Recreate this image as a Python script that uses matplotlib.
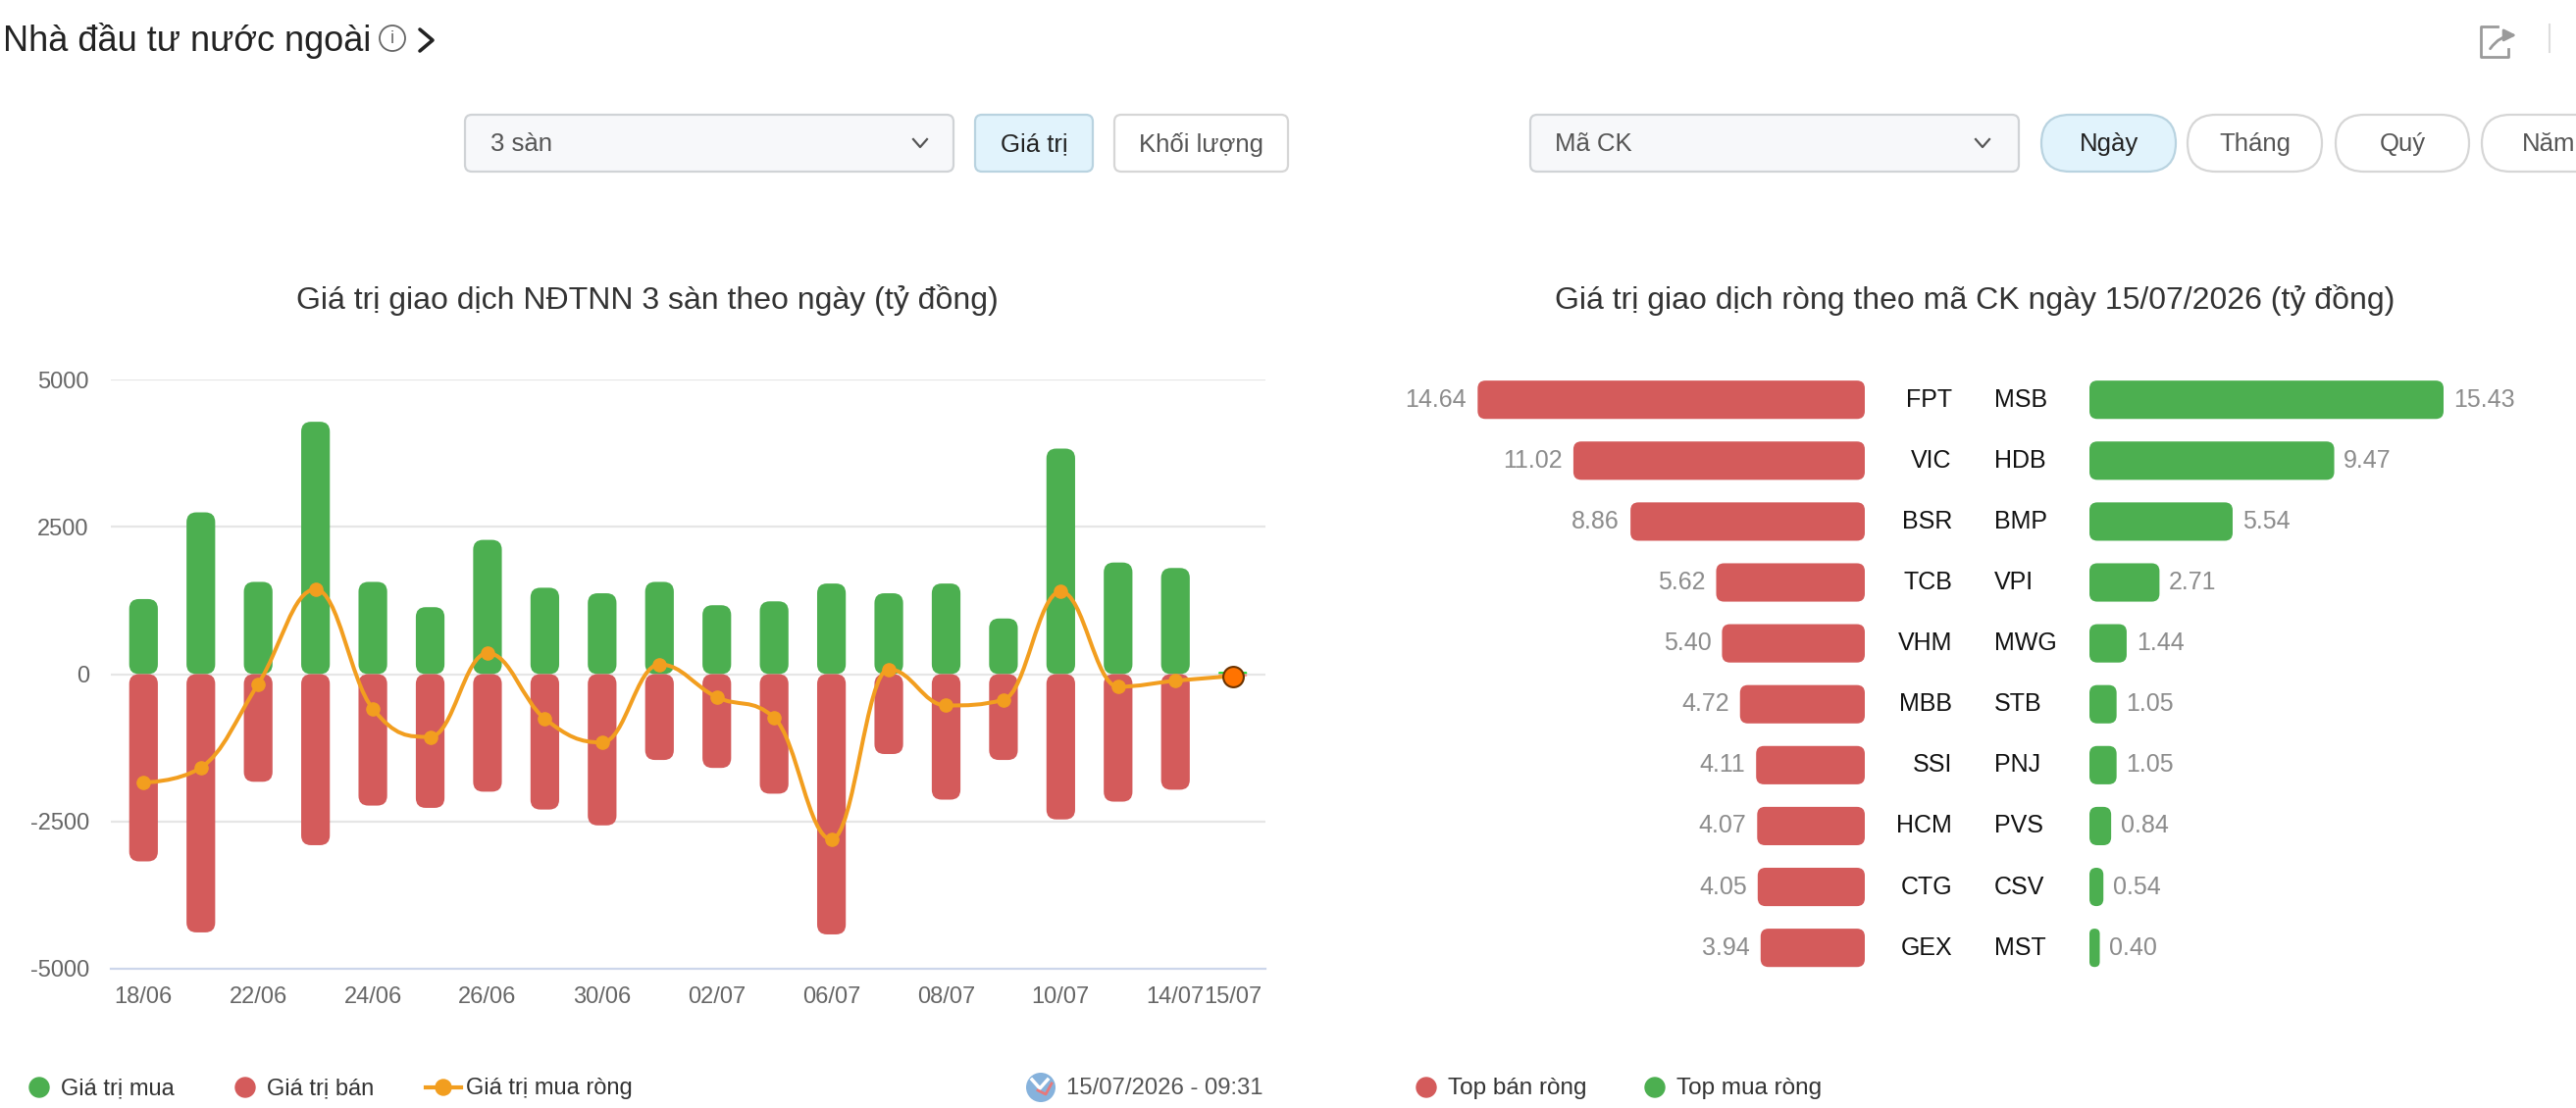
import matplotlib
matplotlib.use("Agg")
import matplotlib.pyplot as plt
from matplotlib.patches import FancyBboxPatch, Circle, PathPatch
from matplotlib.path import Path

plt.rcParams['font.family'] = ['Liberation Sans', 'DejaVu Sans']

# ---- data (tỷ đồng) ----
dates = ["18/06", "19/06", "22/06", "23/06", "24/06", "25/06", "26/06", "29/06", "30/06", "01/07",
         "02/07", "03/07", "06/07", "07/07", "08/07", "09/07", "10/07", "13/07", "14/07", "15/07"]
shown_dates = ["18/06", "22/06", "24/06", "26/06", "30/06", "02/07", "06/07", "08/07", "10/07", "14/07", "15/07"]
buy_value = [1274, 2745, 1565, 4282, 1565, 1136, 2278, 1466, 1372, 1565,
             1169, 1235, 1537, 1372, 1537, 944, 3827, 1894, 1801, 40]
sell_value = [-3178, -4383, -1827, -2903, -2231, -2270, -1995, -2298, -2567, -1457,
              -1592, -2029, -4417, -1356, -2130, -1457, -2466, -2164, -1962, -40]
net_value = [-1838, -1586, -168, 1438, -589, -1065, 357, -757, -1160, 165,
             -392, -740, -2802, 82, -532, -437, 1400, -213, -112, -34]
y_ticks = [-5000, -2500, 0, 2500, 5000]

sell_codes = ["FPT", "VIC", "BSR", "TCB", "VHM", "MBB", "SSI", "HCM", "CTG", "GEX"]
sell_net = [14.64, 11.02, 8.86, 5.62, 5.40, 4.72, 4.11, 4.07, 4.05, 3.94]
buy_codes = ["MSB", "HDB", "BMP", "VPI", "MWG", "STB", "PNJ", "PVS", "CSV", "MST"]
buy_net = [15.43, 9.47, 5.54, 2.71, 1.44, 1.05, 1.05, 0.84, 0.54, 0.40]

GREEN = "#4caf50"
RED = "#d45b5b"
ORANGE = "#f29e1f"
W, H = 2626, 1130


def px(x0, y0, x1, y1):
    # pixel box (top-left origin) -> figure fraction rect
    return [x0 / W, 1 - y1 / H, (x1 - x0) / W, (y1 - y0) / H]


def round_bars(ax, bars, radius_px, colors):
    # swap plain rectangles for rounded ones, radius given in pixels
    bb = ax.get_window_extent()
    x0, x1 = ax.get_xlim()
    y0, y1 = ax.get_ylim()
    sx = bb.width / abs(x1 - x0)
    sy = bb.height / abs(y1 - y0)
    aspect = sx / sy
    for rect, c in zip(bars, colors):
        x, y = rect.get_x(), rect.get_y()
        w, h = rect.get_width(), rect.get_height()
        if w < 0:
            x, w = x + w, -w
        if h < 0:
            y, h = y + h, -h
        r = min(radius_px / sx, w / 2, h / aspect / 2)
        rect.set_visible(False)
        ax.add_patch(FancyBboxPatch((x, y), w, h, boxstyle=f"round,pad=0,rounding_size={r}",
                                    mutation_aspect=aspect, fc=c, ec="none", zorder=2))


def spline_path(xs, ys, smoothing=1.5):
    denom = smoothing + 1
    n = len(xs)
    right = [None] * n
    left = [None] * n
    for i in range(1, n - 1):
        lx, ly, x, y, nx, ny = xs[i - 1], ys[i - 1], xs[i], ys[i], xs[i + 1], ys[i + 1]
        lcx = (smoothing * x + lx) / denom
        lcy = (smoothing * y + ly) / denom
        rcx = (smoothing * x + nx) / denom
        rcy = (smoothing * y + ny) / denom
        corr = (rcy - lcy) * (rcx - x) / (rcx - lcx) + y - rcy
        lcy += corr
        rcy += corr
        if lcy > ly and lcy > y:
            lcy = max(ly, y); rcy = 2 * y - lcy
        elif lcy < ly and lcy < y:
            lcy = min(ly, y); rcy = 2 * y - lcy
        if rcy > ny and rcy > y:
            rcy = max(ny, y); lcy = 2 * y - rcy
        elif rcy < ny and rcy < y:
            rcy = min(ny, y); lcy = 2 * y - rcy
        left[i] = (lcx, lcy)
        right[i] = (rcx, rcy)
    verts = [(xs[0], ys[0])]
    codes = [Path.MOVETO]
    for i in range(1, n):
        c1 = right[i - 1] or (xs[i - 1], ys[i - 1])
        c2 = left[i] or (xs[i], ys[i])
        verts += [c1, c2, (xs[i], ys[i])]
        codes += [Path.CURVE4] * 3
    return Path(verts, codes)


fig = plt.figure(figsize=(W / 100, H / 100), dpi=100)

# ---- page chrome drawn in pixel units ----
ui = fig.add_axes([0, 0, 1, 1])
ui.set_xlim(0, W)
ui.set_ylim(H, 0)
ui.axis("off")

ui.text(3, 52, "Nhà đầu tư nước ngoài", fontsize=26, color="#222222", va="baseline")
ui.add_patch(Circle((400, 39), 13, fc="none", ec="#666666", lw=1.3))
ui.text(400, 40, "i", fontsize=13, color="#666666", ha="center", va="center")
ui.plot([428, 441, 428], [30, 41, 52], color="#222222", lw=2.6, solid_capstyle="round")


def button(x0, x1, label, fc, ec, tc, r=7, ha="center", tx=None):
    ui.add_patch(FancyBboxPatch((x0, 117), x1 - x0, 58, boxstyle=f"round,pad=0,rounding_size={r}",
                                fc=fc, ec=ec, lw=1.6))
    ui.text(tx if tx else (x0 + x1) / 2, 147, label, fontsize=18.5, color=tc, ha=ha, va="center")


def chevron(x):
    ui.plot([x - 7, x, x + 7], [142, 150, 142], color="#555555", lw=1.6)


button(474, 972, "3 sàn", "#f7f8fa", "#d0d3d6", "#555555", ha="left", tx=500)
chevron(938)
button(994, 1114, "Giá trị", "#e1f3fc", "#b9d3e0", "#222222")
button(1136, 1313, "Khối lượng", "#ffffff", "#d6d6d6", "#555555")
button(1560, 2058, "Mã CK", "#f7f8fa", "#d0d3d6", "#555555", ha="left", tx=1585)
chevron(2021)
button(2081, 2218, "Ngày", "#e1f3fc", "#b9d3e0", "#222222", r=29)
button(2230, 2367, "Tháng", "#ffffff", "#d6d6d6", "#555555", r=29)
button(2381, 2517, "Quý", "#ffffff", "#d6d6d6", "#555555", r=29)
button(2530, 2667, "Năm", "#ffffff", "#d6d6d6", "#555555", r=29)

# share icon + separator
ui.plot([2546, 2529, 2529, 2557, 2557], [27, 27, 58, 58, 50], color="#9a9a9a", lw=2)
ui.annotate("", xy=(2568, 36), xytext=(2537, 52),
            arrowprops=dict(arrowstyle="-|>", color="#9a9a9a", lw=2,
                            connectionstyle="arc3,rad=-0.3", mutation_scale=18))
ui.plot([2599, 2599], [25, 53], color="#dddddd", lw=1.5)

# chart titles
ui.text(660, 306, "Giá trị giao dịch NĐTNN 3 sàn theo ngày (tỷ đồng)", fontsize=23,
        color="#333333", ha="center", va="center")
ui.text(2013, 306, "Giá trị giao dịch ròng theo mã CK ngày 15/07/2026 (tỷ đồng)", fontsize=23,
        color="#333333", ha="center", va="center")

# legends
ui.add_patch(Circle((40, 1109), 10, color=GREEN))
ui.text(62, 1110, "Giá trị mua", fontsize=17, color="#333333", va="center")
ui.add_patch(Circle((250, 1109), 10, color=RED))
ui.text(272, 1110, "Giá trị bán", fontsize=17, color="#333333", va="center")
ui.plot([434, 470], [1109, 1109], color=ORANGE, lw=3)
ui.add_patch(Circle((452, 1109), 8, color=ORANGE))
ui.text(475, 1110, "Giá trị mua ròng", fontsize=17, color="#333333", va="center")

ui.add_patch(Circle((1061, 1109), 15, fc="#86b2dc", ec="none"))
ui.plot([1052, 1060, 1068], [1101, 1110, 1101], color="white", lw=2.5)
ui.plot([1058, 1066, 1072], [1112, 1116, 1105], color="#e8787a", lw=2)
ui.text(1087, 1110, "15/07/2026 - 09:31", fontsize=17.2, color="#555555", va="center")

ui.add_patch(Circle((1454, 1109), 10, color=RED))
ui.text(1476, 1110, "Top bán ròng", fontsize=17.5, color="#333333", va="center")
ui.add_patch(Circle((1687, 1109), 10, color=GREEN))
ui.text(1709, 1110, "Top mua ròng", fontsize=17.5, color="#333333", va="center")

# ---- left chart: daily buy / sell / net ----
ax = fig.add_axes(px(113, 387, 1290, 988))
ax.patch.set_alpha(0)
x = list(range(len(dates)))
ax.set_xlim(-0.57, len(dates) - 0.43)
ax.set_ylim(y_ticks[0], y_ticks[-1])
ax.set_yticks(y_ticks)
ax.set_yticklabels([str(v) for v in y_ticks])
ax.set_xticks([i for i, d in enumerate(dates) if d in shown_dates])
ax.set_xticklabels([d for d in dates if d in shown_dates])
ax.tick_params(length=0, labelsize=17, labelcolor="#666666")
ax.tick_params(axis="y", pad=16)
ax.tick_params(axis="x", pad=13)
for s in ["top", "right", "left"]:
    ax.spines[s].set_visible(False)
ax.spines["bottom"].set_color("#ccd6eb")
ax.spines["bottom"].set_linewidth(1.6)
for v in y_ticks[1:]:
    ax.axhline(v, color="#e6e6e6", lw=1.6, zorder=0)

buy_colors = [GREEN] * (len(dates) - 1) + ["#22dd33"]
sell_colors = [RED] * (len(dates) - 1) + ["#ff8f8f"]
b1 = ax.bar(x, buy_value, width=0.5)
b2 = ax.bar(x, sell_value, width=0.5)
round_bars(ax, b1, 10, buy_colors)
round_bars(ax, b2, 10, sell_colors)

ax.add_patch(PathPatch(spline_path(x, net_value), fc="none", ec=ORANGE, lw=2.9, zorder=3,
                       capstyle="round", joinstyle="round"))
ax.plot(x[:-1], net_value[:-1], "o", color=ORANGE, ms=9.5, zorder=4)
ax.plot(x[-1:], net_value[-1:], "o", mfc="#ff7300", mec="#6b3300", mew=1.5, ms=15, zorder=5)

# ---- right chart: top net sell / net buy tickers ----
rows = list(range(len(sell_codes)))
axr = fig.add_axes(px(1440, 376.65, 1901, 997.7))
axg = fig.add_axes(px(2130, 376.65, 2491, 997.7))
axr.set_xlim(17.1, 0)
axg.set_xlim(0, 13.7)
for a in (axr, axg):
    a.set_ylim(len(rows) - 0.5, -0.5)
    a.axis("off")
    a.patch.set_alpha(0)

# the buy side axis tops out below the largest value, so that bar stops at the edge
g_max = axg.get_xlim()[1]
buy_drawn = [min(v, g_max) for v in buy_net]

rb = axr.barh(rows, sell_net, height=0.63)
gb = axg.barh(rows, buy_drawn, height=0.63)
round_bars(axr, rb, 8, [RED] * len(rows))
round_bars(axg, gb, 8, [GREEN] * len(rows))

for i in rows:
    axr.annotate(f"{sell_net[i]:.2f}", (sell_net[i], i), xytext=(-8, 0), textcoords="offset points",
                 ha="right", va="center", fontsize=18, color="#8c8c8c")
    axr.annotate(sell_codes[i], (0, i), xytext=(64, 0), textcoords="offset points",
                 ha="right", va="center", fontsize=18, color="#111111")
    axg.annotate(f"{buy_net[i]:.2f}", (buy_drawn[i], i), xytext=(7, 0), textcoords="offset points",
                 ha="left", va="center", fontsize=18, color="#8c8c8c", annotation_clip=False)
    axg.annotate(buy_codes[i], (0, i), xytext=(-70, 0), textcoords="offset points",
                 ha="left", va="center", fontsize=18, color="#111111", annotation_clip=False)

fig.savefig("out.png", dpi=100)
